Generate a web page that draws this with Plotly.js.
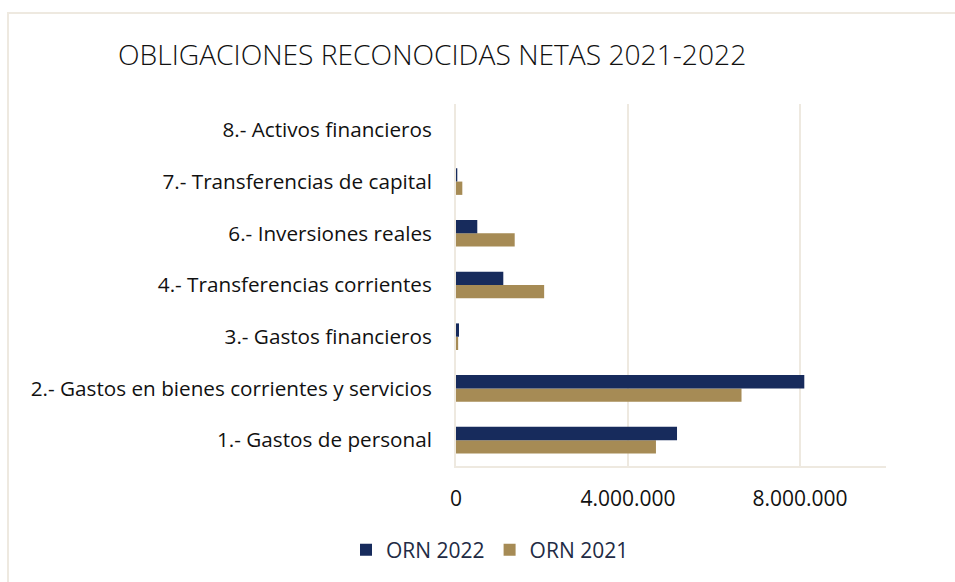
<!DOCTYPE html>
<html>
<head>
<meta charset="utf-8">
<script src="https://cdn.plot.ly/plotly-3.0.1.min.js"></script>
<style>
html,body{margin:0;padding:0;background:#fff;}
#frame{position:absolute;left:7px;top:12px;width:960px;height:600px;border-left:2px solid #EEE9E0;border-top:2px solid #EEE9E0;box-sizing:border-box;}
#chart{position:absolute;left:0;top:0;width:955px;height:582px;}
</style>
</head>
<body>
<div id="frame"></div>
<div id="chart"></div>
<script>
const categories = [
  "1.- Gastos de personal",
  "2.- Gastos en bienes corrientes y servicios",
  "3.- Gastos financieros",
  "4.- Transferencias corrientes",
  "6.- Inversiones reales",
  "7.- Transferencias de capital",
  "8.- Activos financieros"
];
const orn2022 = [5140000, 8100000, 70000, 1100000, 495000, 30000, 0];
const orn2021 = [4650000, 6640000, 50000, 2050000, 1365000, 147000, 0];
const xTicks = [0, 4000000, 8000000];
const xTickLabels = ["0", "4.000.000", "8.000.000"];

const font = "'Open Sans', sans-serif";

const traces = [
  {type:'bar', orientation:'h', name:'ORN 2021', y:categories, x:orn2021,
   marker:{color:'#A68B55'}, hoverinfo:'x+name'},
  {type:'bar', orientation:'h', name:'ORN 2022', y:categories, x:orn2022,
   marker:{color:'#172B5C'}, hoverinfo:'x+name'}
];

const layout = {
  width:955, height:582,
  paper_bgcolor:'rgba(0,0,0,0)', plot_bgcolor:'#fff',
  margin:{l:456, r:69, t:104, b:116},
  barmode:'group', bargap:0.485, bargroupgap:0,
  separators:',.',
  title:{text:'OBLIGACIONES RECONOCIDAS NETAS 2021-2022', x:118/955, xanchor:'left', xref:'container',
         y:1-55/582, yanchor:'middle', yref:'container',
         font:{family:font, size:28.2, weight:300, color:'#111'}},
  xaxis:{range:[0,10000000], tickvals:xTicks, ticktext:xTickLabels,
         showgrid:true, gridcolor:'#EEE9E0', gridwidth:2,
         zeroline:false, showline:true, linecolor:'#EEE9E0', linewidth:2,
         ticks:'', tickfont:{family:font, size:21, color:'#111'}, ticklabelstandoff:13, fixedrange:true},
  yaxis:{type:'category', showgrid:false, zeroline:false, showline:true, linecolor:'#EEE9E0', linewidth:2,
         ticks:'', tickfont:{family:font, size:20.7, color:'#111'}, ticklabelstandoff:18, fixedrange:true},
  legend:{orientation:'h', traceorder:'reversed', x:490/955, xanchor:'center', xref:'container',
          y:1-550/582, yanchor:'middle', yref:'container',
          font:{family:font, size:21, color:'#222B45'}, itemwidth:30},
  showlegend:true
};

Plotly.newPlot('chart', traces, layout, {displayModeBar:false, staticPlot:true});
</script>
</body>
</html>
